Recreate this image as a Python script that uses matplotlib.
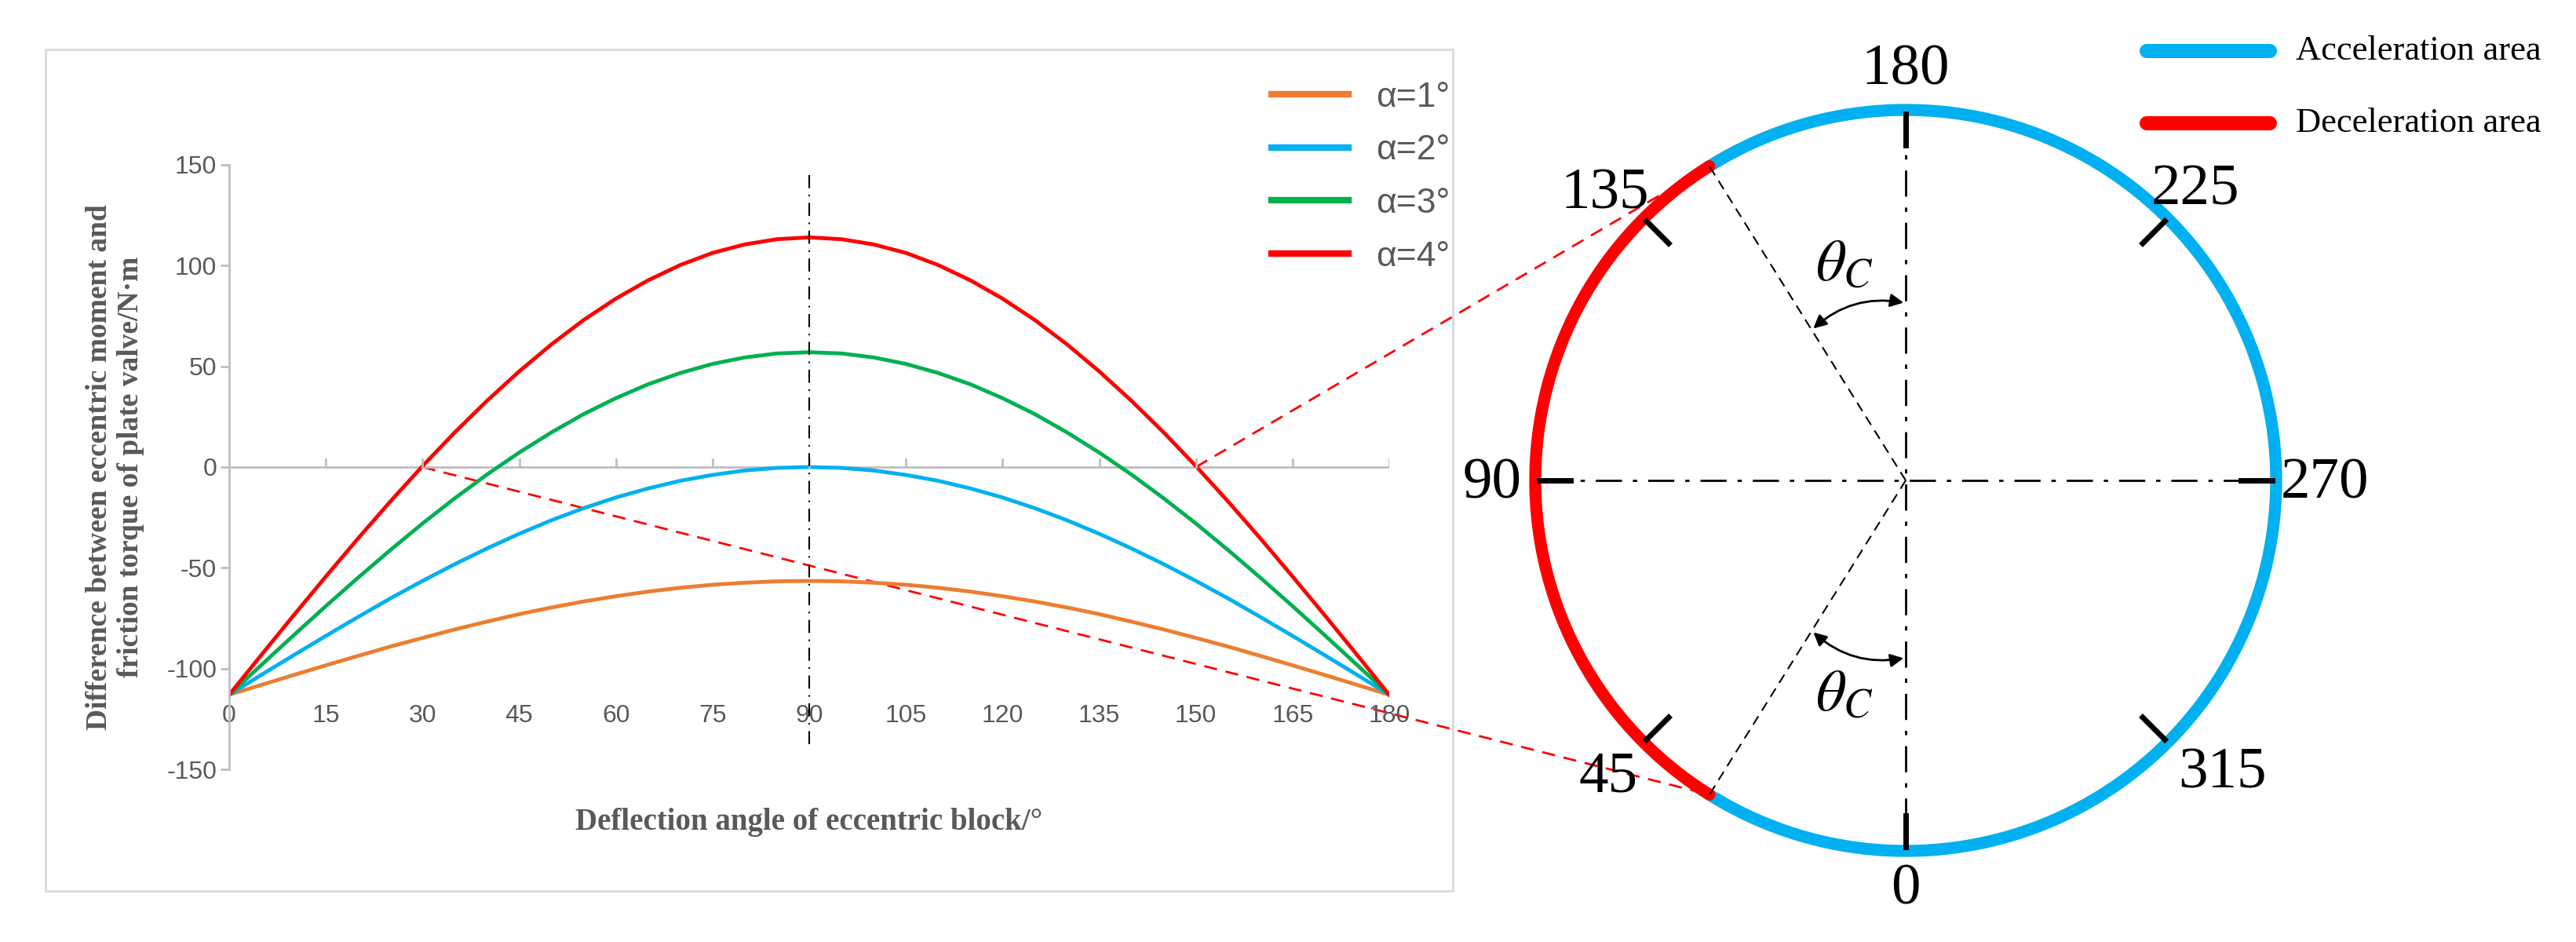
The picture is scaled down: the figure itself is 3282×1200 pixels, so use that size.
import matplotlib.pyplot as plt
import numpy as np
from matplotlib.patches import FancyArrowPatch, Rectangle

plt.rcParams['axes.unicode_minus'] = False

# deflection angle of eccentric block, degrees (0..180, step 5)
angles = list(range(0, 181, 5))
half1 = [-113, -108.1, -103.2, -98.4, -93.7, -89.1, -84.8, -80.6, -76.7, -73.0,
         -69.7, -66.7, -64.1, -61.8, -59.9, -58.4, -57.4, -56.7, -56.5]
half2 = [-113, -103.1, -93.4, -83.8, -74.4, -65.2, -56.5, -48.2, -40.4, -33.1,
         -26.4, -20.4, -15.1, -10.6, -6.8, -3.9, -1.7, -0.4, 0]
half3 = [-113, -98.2, -83.5, -69.0, -54.9, -41.2, -28.0, -15.5, -3.7, 7.2,
         17.2, 26.3, 34.2, 41.1, 46.7, 51.2, 54.4, 56.4, 57]
half4 = [-113, -93.2, -73.6, -54.3, -35.4, -17.1, 0.5, 17.2, 32.9, 47.5,
         60.9, 73.0, 83.6, 92.7, 100.3, 106.3, 110.5, 113.1, 114]
series = {
    'α=1°': half1 + half1[-2::-1],
    'α=2°': half2 + half2[-2::-1],
    'α=3°': half3 + half3[-2::-1],
    'α=4°': half4 + half4[-2::-1],
}
colors = ['#ED7D31', '#00B0F0', '#00B050', '#FF0000']
xticks = list(range(0, 181, 15))
yticks = [-150, -100, -50, 0, 50, 100, 150]

# circle panel values
dial_labels = [0, 45, 90, 135, 180, 225, 270, 315]
theta_c = 32  # deceleration area spans theta_c .. 180-theta_c

W, H = 3282, 1200
fig = plt.figure(figsize=(W / 100, H / 100), dpi=100)
sans = ['Liberation Sans', 'DejaVu Sans']
serif = ['Liberation Serif', 'DejaVu Serif']


def box(x0, y0, x1, y1):
    return [x0 / W, 1 - y1 / H, (x1 - x0) / W, (y1 - y0) / H]


# overlay axes in pixel coordinates
ov = fig.add_axes([0, 0, 1, 1])
ov.set_xlim(0, W)
ov.set_ylim(H, 0)
ov.axis('off')
ov.add_patch(Rectangle((58, 63), 1793, 1072, fill=False, ec='#D9D9D9', lw=2))

ax = fig.add_axes(box(292, 210, 1770, 980))
for (name, vals), c in zip(series.items(), colors):
    ax.plot(angles, vals, color=c, lw=3.5, label=name)
ax.set_xlim(0, 180)
ax.set_ylim(-150, 150)
ax.set_xticks(xticks)
ax.set_yticks(yticks)
for s in ['top', 'right', 'bottom']:
    ax.spines[s].set_visible(False)
ax.spines['left'].set_color('#BFBFBF')
ax.spines['left'].set_linewidth(2)
ax.axhline(0, color='#BFBFBF', lw=2, zorder=0)
ax.tick_params(axis='y', length=8, width=2, color='#BFBFBF', labelcolor='#595959', labelsize=23)
ax.tick_params(axis='x', length=0, labelcolor='#595959', labelsize=23, pad=-60)
for t in ax.get_xticklabels() + ax.get_yticklabels():
    t.set_family(sans)
for xv in xticks[1:]:
    ax.plot([xv, xv], [0, 4], color='#BFBFBF', lw=2)
ax.patch.set_alpha(0)
ax.plot([90, 90], [145, -140], color='black', lw=1.5, ls=(0, (8, 4, 1, 4)))
ax.set_xlabel('Deflection angle of eccentric block/°', fontsize=28, fontweight='bold',
              color='#595959', family=serif, labelpad=35)
ax.set_ylabel('Difference between eccentric moment and\nfriction torque of plate valve/N·m',
              fontsize=27, fontweight='bold', color='#595959', family=serif, labelpad=20)
leg = ax.legend(loc='upper left', bbox_to_anchor=((1580 - 292) / 1478, 1.19),
                frameon=False, prop={'family': sans, 'size': 32}, handlelength=2.2,
                labelspacing=0.6, labelcolor='#595959')
for line in leg.get_lines():
    line.set_linewidth(6)

# dial
cx, cy, R = 2428, 612, 472


def pt(deg, r=R):
    a = np.radians(deg)
    return cx - r * np.sin(a), cy + r * np.cos(a)


t_acc = np.linspace(180 - theta_c, 360 + theta_c, 300)
t_dec = np.linspace(theta_c, 180 - theta_c, 200)
ov.plot(*pt(t_acc), color='#00B0F0', lw=11, solid_capstyle='round')
ov.plot(*pt(t_dec), color='#FF0000', lw=11, solid_capstyle='round')

ov.plot([cx, cx], [cy - R + 10, cy + R - 10], color='black', lw=2, ls=(0, (12, 5, 2, 5)))
ov.plot([cx - R + 10, cx + R - 10], [cy, cy], color='black', lw=2, ls=(0, (12, 5, 2, 5)))
for d in [theta_c, 180 - theta_c]:
    ex, ey = pt(d)
    ov.plot([cx, ex], [cy, ey], color='black', lw=1.5, ls=(0, (6, 4)))

label_off = {0: (0, 50), 45: (-45, 45), 90: (-55, 5), 135: (-50, -30),
             180: (0, -50), 225: (35, -35), 270: (62, 5), 315: (70, 40)}
for d in dial_labels:
    x0, y0 = pt(d, R - 5)
    x1, y1 = pt(d, R - 45)
    ov.plot([x0, x1], [y0, y1], color='black', lw=5)
    lx, ly = pt(d, R)
    dx, dy = label_off[d]
    ov.text(lx + dx, ly + dy, str(d), fontsize=54, family=serif, ha='center', va='center')

# theta_c arrows
for start, end, ty, rad in [((cx, cy - 226), pt(180 - theta_c, 226), 337, 0.25),
                            ((cx, cy + 226), pt(theta_c, 226), 885, -0.25)]:
    ov.add_patch(FancyArrowPatch(start, end, arrowstyle='<|-|>', mutation_scale=25,
                                 connectionstyle=f'arc3,rad={rad}', color='black', lw=2))
    ov.text(2350, ty, r'$\theta_C$', fontsize=54, ha='center', va='center',
            math_fontfamily='stix')

# connecting dashed lines from zero crossings to arc ends
fig.canvas.draw()
for xv, d in [(30, theta_c), (150, 180 - theta_c)]:
    px, py = ax.transData.transform((xv, 0))
    py = H - py
    ex, ey = pt(d)
    ov.plot([px, ex], [py, ey], color='#FF0000', lw=2, ls=(0, (6, 4)))

# dial legend
for y, c, name in [(65, '#00B0F0', 'Acceleration area'), (157, '#FF0000', 'Deceleration area')]:
    ov.plot([2735, 2892], [y, y], color=c, lw=13, solid_capstyle='round')
    ov.text(2925, y, name, fontsize=32, family=serif, va='center')

fig.savefig('out.png', dpi=100)
